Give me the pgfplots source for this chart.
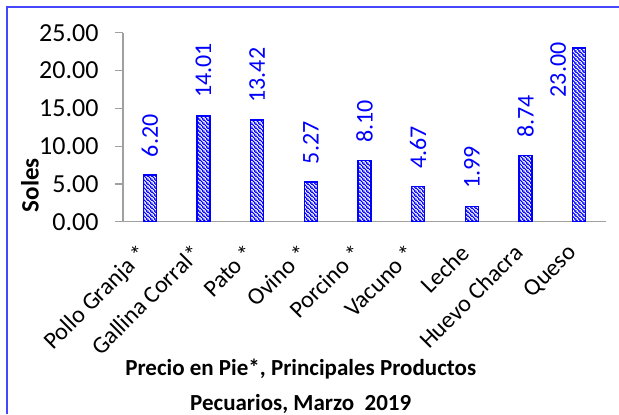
\documentclass[border=0pt]{standalone}
\usepackage{fontspec}
\setmainfont{Carlito}
\usepackage{pgfplots}
\pgfplotsset{compat=1.18}
\usetikzlibrary{patterns.meta}
\definecolor{lblue}{RGB}{0,0,255}
\definecolor{axgray}{RGB}{160,160,160}
\definecolor{framec}{RGB}{70,70,250}
\tikzdeclarepattern{
  name=densenw,
  type=uncolored,
  bounding box={(0,0) and (4bp,4bp)},
  tile size={(4bp,4bp)},
  code={
    \draw[line width=1.3bp] (-0.5bp,4.5bp) -- (4.5bp,-0.5bp);
    \draw[line width=1.3bp] (-1bp,1bp) -- (1bp,-1bp);
    \draw[line width=1.3bp] (3bp,5bp) -- (5bp,3bp);
  }
}
\begin{document}
\begin{tikzpicture}[x=1bp,y=1bp]
\useasboundingbox (0,0) rectangle (619,414);
\draw[framec, line width=2bp] (7,0) -- (7,407) -- (619,407);
\begin{axis}[
  at={(123bp,192.3bp)}, anchor=south west,
  scale only axis, width=483bp, height=189bp,
  xmin=-0.5, xmax=8.5, ymin=0, ymax=25,
  axis x line*=bottom, axis y line*=left,
  x axis line style={-, axgray, line width=1.2bp},
  y axis line style={-, axgray, line width=1.2bp},
  xtick={0,...,8},
  xticklabels={Pollo Granja *, Gallina Corral*, Pato *, Ovino *, Porcino *, Vacuno *, Leche, Huevo Chacra, Queso},
  xtick style={draw=none},
  x tick label style={xshift=-13bp, yshift=-13bp, rotate=45, anchor=north east, inner sep=0pt, font=\fontsize{24bp}{24bp}\selectfont},
  ytick={0,5,...,25},
  major tick length=8bp, tick align=outside,
  ytick style={axgray, line width=1.2bp},
  y tick label style={xshift=-13bp, font=\fontsize{26bp}{26bp}\selectfont, /pgf/number format/.cd, fixed, fixed zerofill, precision=2, assume math mode=true},
  ylabel={\bfseries Soles},
  ylabel style={at={(axis description cs:-0.1925,0.194)}, anchor=center, font=\fontsize{25bp}{25bp}\selectfont},
  xlabel={Precio en Pie*, Principales Productos\\Pecuarios, Marzo\ \ 2019},
  xlabel style={at={(axis description cs:0.368,-0.870)}, anchor=center, align=center, font=\fontsize{23bp}{35bp}\selectfont\bfseries},
  point meta=explicit symbolic,
]
\addplot[ybar, bar width=13bp, bar shift=0pt, draw=lblue, line width=1.6bp, pattern={densenw}, pattern color=lblue,
  nodes near coords,
  nodes near coords style={yshift=17bp, rotate=90, anchor=west, inner sep=0pt, text=lblue, font=\fontsize{24bp}{24bp}\selectfont}]
coordinates {(0,6.20)[6.20] (1,14.01)[14.01] (2,13.42)[13.42] (3,5.27)[5.27] (4,8.10)[8.10] (5,4.67)[4.67] (6,1.99)[1.99] (7,8.74)[8.74]};
\addplot[ybar, bar width=13bp, bar shift=0pt, draw=lblue, line width=1.6bp, pattern={densenw}, pattern color=lblue,
  nodes near coords,
  nodes near coords style={xshift=-21bp, yshift=6bp, rotate=90, anchor=east, inner sep=0pt, text=lblue, font=\fontsize{24bp}{24bp}\selectfont}]
coordinates {(8,23.00)[23.00]};
\end{axis}
\end{tikzpicture}
\end{document}
